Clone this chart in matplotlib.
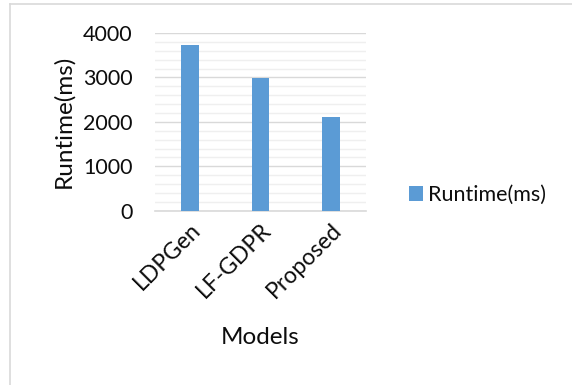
import matplotlib
matplotlib.use("Agg")
import matplotlib.pyplot as plt
from matplotlib.lines import Line2D
from matplotlib.ticker import MultipleLocator

# Runtime per model (ms)
models = ["LDPGen", "LF-GDPR", "Proposed"]
runtime_ms = [3740, 2980, 2100]
y_ticks = [0, 1000, 2000, 3000, 4000]

BAR_COLOR = "#5B9BD5"
TEXT_COLOR = "#0D0D0D"

plt.rcParams["font.family"] = ["Lato", "DejaVu Sans"]

W, H = 572, 385
fig = plt.figure(figsize=(W / 100, H / 100), dpi=100)
fig.patch.set_facecolor("white")

# plot area in pixel coordinates
x0, x1, y_top, y_bot = 155, 366, 33, 210.7
ax = fig.add_axes([x0 / W, 1 - y_bot / H, (x1 - x0) / W, (y_bot - y_top) / H])

positions = range(len(models))
ax.bar(positions, runtime_ms, width=0.25, color=BAR_COLOR, zorder=3, label="Runtime(ms)")

ax.set_xlim(-0.5, len(models) - 0.5)
ax.set_ylim(0, 4000)
ax.set_yticks(y_ticks)
ax.yaxis.set_minor_locator(MultipleLocator(200))
ax.grid(axis="y", which="major", color="#D9D9D9", linewidth=1.0, zorder=0)
ax.grid(axis="y", which="minor", color="#EFEFEF", linewidth=1.0, zorder=0)

for side in ["left", "right", "top"]:
    ax.spines[side].set_visible(False)
ax.spines["bottom"].set_color("#D9D9D9")
ax.spines["bottom"].set_linewidth(1.2)

ax.tick_params(axis="both", which="both", length=0, colors=TEXT_COLOR)
ax.tick_params(axis="y", labelsize=15.5, pad=16)
ax.tick_params(axis="x", labelsize=16.5)
ax.set_xticks(list(positions))
ax.set_xticklabels(models, rotation=45, ha="right", rotation_mode="anchor")
for lbl in ax.get_xticklabels():
    lbl.set_position((0, -0.02))

ax.set_ylabel("Runtime(ms)", fontsize=17.5, color=TEXT_COLOR, labelpad=6)
fig.text(260 / W, 1 - 338 / H, "Models", fontsize=17.5, color=TEXT_COLOR,
         ha="center", va="center")

ax.legend(loc="center left", bbox_to_anchor=(390 / W, 1 - 195 / H),
          bbox_transform=fig.transFigure, frameon=False, fontsize=15.5,
          handlelength=0.65, handleheight=0.65, handletextpad=0.2,
          labelcolor=TEXT_COLOR)

# chart frame (top and left edges)
fig.add_artist(Line2D([10 / W, 1], [1 - 4 / H, 1 - 4 / H], color="#D9D9D9", lw=1.2,
                      transform=fig.transFigure))
fig.add_artist(Line2D([10 / W, 10 / W], [0, 1 - 4 / H], color="#D9D9D9", lw=1.2,
                      transform=fig.transFigure))

fig.savefig("out.png", dpi=100, facecolor="white")
